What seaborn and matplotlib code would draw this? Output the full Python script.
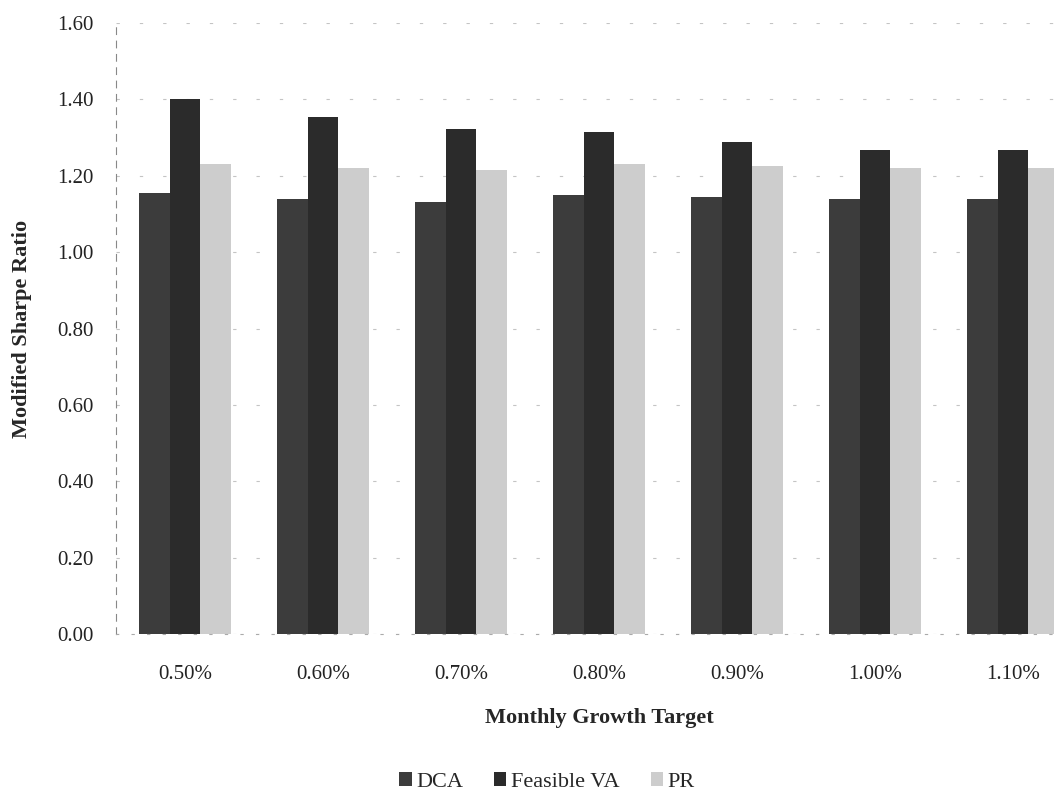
import matplotlib
matplotlib.use("Agg")
import matplotlib.pyplot as plt
import seaborn as sns
import pandas as pd

# Modified Sharpe ratio by monthly growth target for each strategy
targets = ["0.50%", "0.60%", "0.70%", "0.80%", "0.90%", "1.00%", "1.10%"]
dca = [1.154, 1.139, 1.131, 1.149, 1.144, 1.139, 1.139]
feasible_va = [1.400, 1.353, 1.322, 1.314, 1.288, 1.267, 1.267]
pr = [1.230, 1.220, 1.215, 1.230, 1.225, 1.220, 1.220]
series = ["DCA", "Feasible VA", "PR"]
colors = ["#3c3c3c", "#2b2b2b", "#cdcdcd"]

df = pd.DataFrame({
    "target": targets * 3,
    "value": dca + feasible_va + pr,
    "strategy": [s for s in series for _ in targets],
})

sns.set_theme(style="white")
plt.rcParams["font.family"] = ["Liberation Serif", "DejaVu Serif"]

fig = plt.figure(figsize=(10.54, 7.92), dpi=100)
ax = fig.add_axes([116 / 1054, 1 - 634 / 792, (1082 - 116) / 1054, (634 - 23) / 792])

sns.barplot(data=df, x="target", y="value", hue="strategy", order=targets,
            hue_order=series, palette=colors, width=0.66, gap=0,
            saturation=1, ax=ax, legend=True, linewidth=0)

ax.set_ylim(0, 1.6)
ax.set_yticks([0, 0.2, 0.4, 0.6, 0.8, 1.0, 1.2, 1.4, 1.6])
ax.set_yticklabels([f"{v:.2f}" for v in ax.get_yticks()])
ax.yaxis.grid(True, color="#c4c4c4", linestyle=(0, (3, 18)), linewidth=0.8)
ax.set_axisbelow(True)
for side in ["top", "right"]:
    ax.spines[side].set_visible(False)
ax.spines["left"].set_linestyle((0, (6, 6)))
ax.spines["left"].set_color("#888888")
ax.spines["left"].set_linewidth(0.8)
ax.spines["bottom"].set_linestyle((0, (2, 12)))
ax.spines["bottom"].set_color("#aaaaaa")
ax.spines["bottom"].set_linewidth(0.8)
ax.tick_params(axis="y", labelsize=15, pad=16, length=0, colors="#222222")
ax.tick_params(axis="x", labelsize=15, pad=22, length=0, colors="#222222")
ax.set_xlabel("")
ax.set_ylabel("Modified Sharpe Ratio", fontsize=16, fontweight="bold")
ax.yaxis.set_label_coords(-84 / 966, 0.5)

fig.text(599 / 1054, 1 - 718 / 792, "Monthly Growth Target", ha="center", va="center",
         fontsize=16, fontweight="bold")

handles, labels = ax.get_legend_handles_labels()
ax.get_legend().remove()
fig.legend(handles, labels, loc="center", bbox_to_anchor=(547 / 1054, 1 - 782 / 792),
           ncol=3, frameon=False, fontsize=16, handlelength=0.55, handleheight=0.55,
           handletextpad=0.2, columnspacing=1.4, borderpad=0)

fig.savefig("out.png", dpi=100)
